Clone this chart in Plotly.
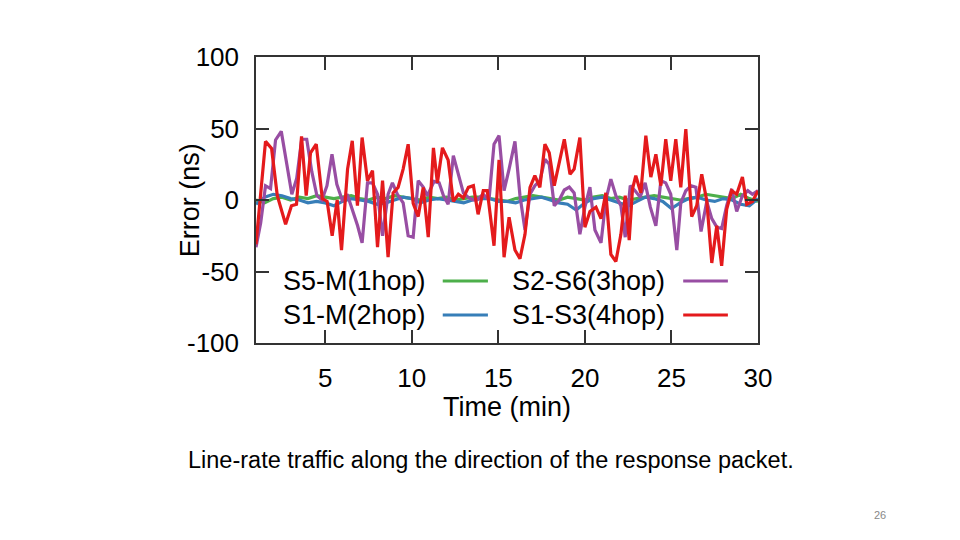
import plotly.graph_objects as go

# ---------------- data ----------------
grid_t = [1, 1.5, 2, 2.5, 3, 3.5, 4, 4.5, 5, 5.5, 6, 6.5, 7, 7.5, 8, 8.5, 9, 9.5,
          10, 10.5, 11, 11.5, 12, 12.5, 13, 13.5, 14, 14.5, 15, 15.5, 16, 16.5,
          17, 17.5, 18, 18.5, 19, 19.5, 20, 20.5, 21, 21.5, 22, 22.5, 23, 23.5,
          24, 24.5, 25, 25.5, 26, 26.5, 27, 27.5, 28, 28.5, 29, 29.5, 30]

s5_m = [0, -2, 1, 2, 0, 2, 1, 3, 2, 1, 2, 3, 1, 0, 2, 1, 3, 2, 1, 0,
        2, 1, 2, 0, 1, 2, 2, 1, 0, -1, 1, 2, 3, 2, 1, 0, 2, 1, 0, 2,
        3, 1, 2, 0, 1, 2, 3, 2, 1, 0, 1, 2, 4, 3, 2, 1, 4, 1, -1]

s1_m = [-3, 2, 4, 3, 1, 0, -2, -1, -2, -4, -1, 1, 0, -1, -3, -2, 0, 2, 1, -2,
        0, 1, 0, -1, -2, 0, 1, 1, -1, -1, -2, 0, 1, 2, 0, -2, -3, -7, -2, 1,
        2, 0, -2, -4, -1, 2, 1, -1, -6, -2, 1, 2, 0, -1, 1, 0, -3, -4, 1]

s2_s6_t = [1.00, 1.27, 1.55, 1.84, 2.13, 2.46, 2.78, 3.07, 3.35, 3.64, 3.93, 4.22,
           4.52, 4.81, 5.10, 5.39, 5.67, 5.98, 6.27, 6.61, 6.87, 7.13, 7.44, 7.73,
           8.02, 8.31, 8.63, 8.88, 9.17, 9.50, 9.79, 10.08, 10.37, 10.66, 10.90,
           11.29, 11.58, 11.83, 12.10, 12.40, 12.69, 12.98, 13.25, 13.54, 13.77,
           14.12, 14.46, 14.75, 15.04, 15.33, 15.62, 15.96, 16.25, 16.54, 16.83,
           17.11, 17.40, 17.69, 17.94, 18.23, 18.52, 18.81, 19.10, 19.38, 19.71,
           20.00, 20.29, 20.58, 20.93, 21.21, 21.50, 21.79, 22.08, 22.33, 22.62,
           22.90, 23.19, 23.48, 23.78, 24.10, 24.39, 24.67, 24.96, 25.31, 25.54,
           25.83, 26.14, 26.41, 26.71, 27.04, 27.33, 27.62, 27.90, 28.19, 28.48,
           28.77, 29.10, 29.41, 29.68, 30.00]
s2_s6 = [-33, -16, 10, 8, 42, 48, 25, 4, 15, 42.5, 42.5, 20,
         3, 0, 10, 32, 11, 0, 4, -8, -18, -30, 12, 12,
         4, -25, 4, 12, 4, -2, -25, -26, 13.5, 9, 3,
         13, 12, 3, -3, 31, 17, 5, 2, 0, 0,
         4, 0, 39, 45, 6.5, 21.6, 41, 3, -21, 4,
         10, 13.5, 28.5, 25, -4, 0, 7, 9, 5, -24,
         -5, 9, -21, -30, 0, 14.6, 3, -4, -26, 10,
         6.5, 2, 12, -5, -18, 13.5, 12, 4, -35, -2,
         6.5, 10, 9, -22, -1, -13, -19, -20, -4, 7.7,
         -8, 3, 6.5, 4, 6.5]

s1_s3_t = [1.00, 1.55, 1.90, 2.23, 2.71, 3.05, 3.34, 3.63, 3.90, 4.15, 4.48, 4.83,
           5.11, 5.40, 5.69, 5.94, 6.29, 6.56, 6.86, 7.13, 7.44, 7.73, 8.02, 8.31,
           8.63, 8.92, 9.21, 9.50, 9.79, 10.08, 10.37, 10.66, 10.95, 11.25, 11.48,
           11.77, 12.10, 12.40, 12.69, 12.98, 13.27, 13.56, 13.83, 14.13, 14.36,
           14.75, 15.04, 15.33, 15.62, 15.96, 16.25, 16.54, 16.83, 17.11, 17.40,
           17.69, 17.94, 18.23, 18.81, 19.14, 19.38, 19.71, 20.00, 20.29, 20.64,
           20.93, 21.21, 21.50, 21.79, 22.08, 22.33, 22.56, 22.75, 22.94, 23.23,
           23.52, 23.81, 24.10, 24.39, 24.67, 24.96, 25.25, 25.54, 25.83, 26.17,
           26.46, 26.75, 27.04, 27.33, 27.62, 27.90, 28.19, 28.48, 28.77, 29.10,
           29.35, 29.68, 30.00]
s1_s3 = [-31, 41, 36, 3, -17, -4, -3, 44.5, 3, 33, 39, 1,
         -1, -25, 0, -35, 21.6, 41.4, -4, 43.7, 13.5, 20.5, -33, 13.5,
         -40, 5, 8.8, 21.6, 39, -2.3, -11.6, 8.8, -26, 36.5, 12,
         36.5, 28, -1, 4, 1.5, 8.8, 10, -10, 6.5, 6.5,
         -32, 28, -40, -12, -35, -41, -24, 8.8, 17, 8.8,
         39, 33, 10, 42.5, 18, 21.6, 43.7, -19, -8, -5,
         -13, 5, -38, -43, -24, 3, -28, 7.7, 17, 5,
         45, 16, 32, 10, 42.5, 13.5, 42.5, 8.8, 49.5, -11.6,
         -4, 18, -0.5, -44, -18, -46, -6.6, 6.5, 4, 16,
         -3, -1, 6.5]

names = ["S5-M(1hop)", "S1-M(2hop)", "S2-S6(3hop)", "S1-S3(4hop)"]
colors = ["#4daf4a", "#377eb8", "#984ea3", "#e41a1c"]

x_ticks = [5, 10, 15, 20, 25, 30]
y_ticks = [-100, -50, 0, 50, 100]

FONT = "Liberation Sans, Arial, sans-serif"

fig = go.Figure()
series = [(grid_t, s5_m), (grid_t, s1_m), (s2_s6_t, s2_s6), (s1_s3_t, s1_s3)]
for (tx, ty), nm, c in zip(series, names, colors):
    fig.add_trace(go.Scatter(x=tx, y=ty, mode="lines", name=nm,
                             line=dict(color=c, width=3.2), showlegend=False))

axis_common = dict(showline=True, linecolor="#333333", linewidth=1.5, mirror="allticks",
                   ticks="inside", ticklen=13, tickwidth=1.5, tickcolor="#333333",
                   showgrid=False, zeroline=False,
                   tickfont=dict(family=FONT, size=26, color="black"))

fig.update_xaxes(range=[1, 30], tickvals=x_ticks, ticktext=[str(v) for v in x_ticks],
                 ticklabelstandoff=11, **axis_common)
fig.update_yaxes(range=[-100, 100], tickvals=y_ticks, ticktext=[str(v) for v in y_ticks],
                 ticklabelstandoff=10, **axis_common)

annotations = [
    dict(text="Time (min)", x=0.5, y=-0.225, xref="paper", yref="paper",
         showarrow=False, font=dict(family=FONT, size=27, color="black"),
         xanchor="center", yanchor="middle"),
    dict(text="Error (ns)", x=-0.131, y=0.5, xref="paper", yref="paper",
         showarrow=False, textangle=-90, font=dict(family=FONT, size=27, color="black"),
         xanchor="center", yanchor="middle"),
    dict(text="Line-rate traffic along the direction of the response packet.",
         x=0.469, y=-0.409, xref="paper", yref="paper", showarrow=False,
         font=dict(family=FONT, size=23.5, color="black"), xanchor="center", yanchor="middle"),
    dict(text="26", x=1.243, y=-0.601, xref="paper", yref="paper", showarrow=False,
         font=dict(family=FONT, size=11, color="#888888"), xanchor="center", yanchor="middle"),
]

# legend (text on the left, line sample on the right, two columns)
leg_pos = [(0.343, 0.372, 0.462, 0.217), (0.343, 0.372, 0.462, 0.098),
           (0.819, 0.851, 0.940, 0.217), (0.819, 0.851, 0.940, 0.098)]
shapes = []
for nm, c, (tx, x0, x1, yy) in zip(names, colors, leg_pos):
    annotations.append(dict(text=nm, x=tx, y=yy, xref="paper", yref="paper",
                            showarrow=False, xanchor="right", yanchor="middle",
                            font=dict(family=FONT, size=27, color="black")))
    shapes.append(dict(type="line", xref="paper", yref="paper", x0=x0, x1=x1,
                       y0=yy, y1=yy, line=dict(color=c, width=3)))

# the page body adds an 8 px offset, so margins compensate for it
fig.update_layout(width=960, height=540, paper_bgcolor="white", plot_bgcolor="white",
                  margin=dict(l=248, r=210, t=49, b=205),
                  annotations=annotations, shapes=shapes, showlegend=False,
                  font=dict(family=FONT))

fig.write_html("out.html")
